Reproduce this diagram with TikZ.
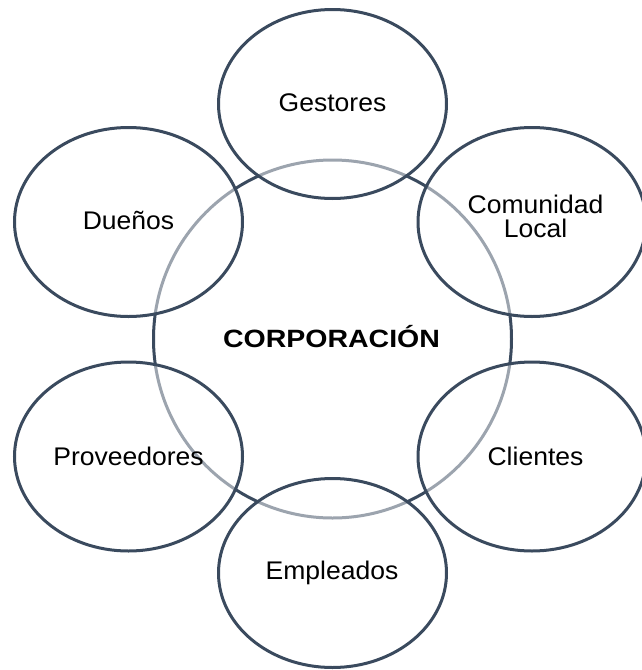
\documentclass[tikz,border=0pt]{standalone}
\usepackage{fontspec}
\setmainfont{Liberation Sans}
\usetikzlibrary{shapes.geometric}
\definecolor{ringdark}{HTML}{3A4A5E}
\newcommand{\wtxt}[1]{\scalebox{1.04}[1]{#1}}
\newcommand{\btxt}[1]{\scalebox{1.14}[1]{\bfseries #1}}
\tikzset{
  stake/.style={ellipse, draw=ringdark, line width=3pt, fill=white, fill opacity=0.5,
    minimum width=228pt, minimum height=189pt, inner sep=0pt},
  core/.style={circle, draw=ringdark, line width=3pt, minimum size=358pt, inner sep=0pt},
  lbl/.style={anchor=base, inner sep=0pt, font=\fontsize{25.5}{24}\selectfont, align=center},
  corelbl/.style={anchor=base, inner sep=0pt, font=\fontsize{25}{25}\selectfont}
}
\begin{document}
\begin{tikzpicture}[x=1pt,y=-1pt]
\useasboundingbox (0,0) rectangle (642,670);
\node[core] (corp) at (332.5,339) {};
\node[stake] (gest) at (332.5,104) {};
\node[stake] (duen) at (128.5,222) {};
\node[stake] (comu) at (532,222) {};
\node[stake] (prov) at (128.5,456.5) {};
\node[stake] (clie) at (532,456.5) {};
\node[stake] (empl) at (332.5,573) {};
\node[corelbl] (corptxt) at (331.5,347.3) {\btxt{CORPORACIÓN}};
\node[lbl] (gesttxt) at (332.5,111.7) {\wtxt{Gestores}};
\node[lbl] (duentxt) at (128.5,229) {\wtxt{Dueños}};
\node[lbl] (comutxt1) at (535.5,213) {\wtxt{Comunidad}};
\node[lbl] (comutxt2) at (535.5,237) {\wtxt{Local}};
\node[lbl] (provtxt) at (128.5,465) {\wtxt{Proveedores}};
\node[lbl] (clietxt) at (535.5,465) {\wtxt{Clientes}};
\node[lbl] (empltxt) at (332,579) {\wtxt{Empleados}};
\end{tikzpicture}
\end{document}
